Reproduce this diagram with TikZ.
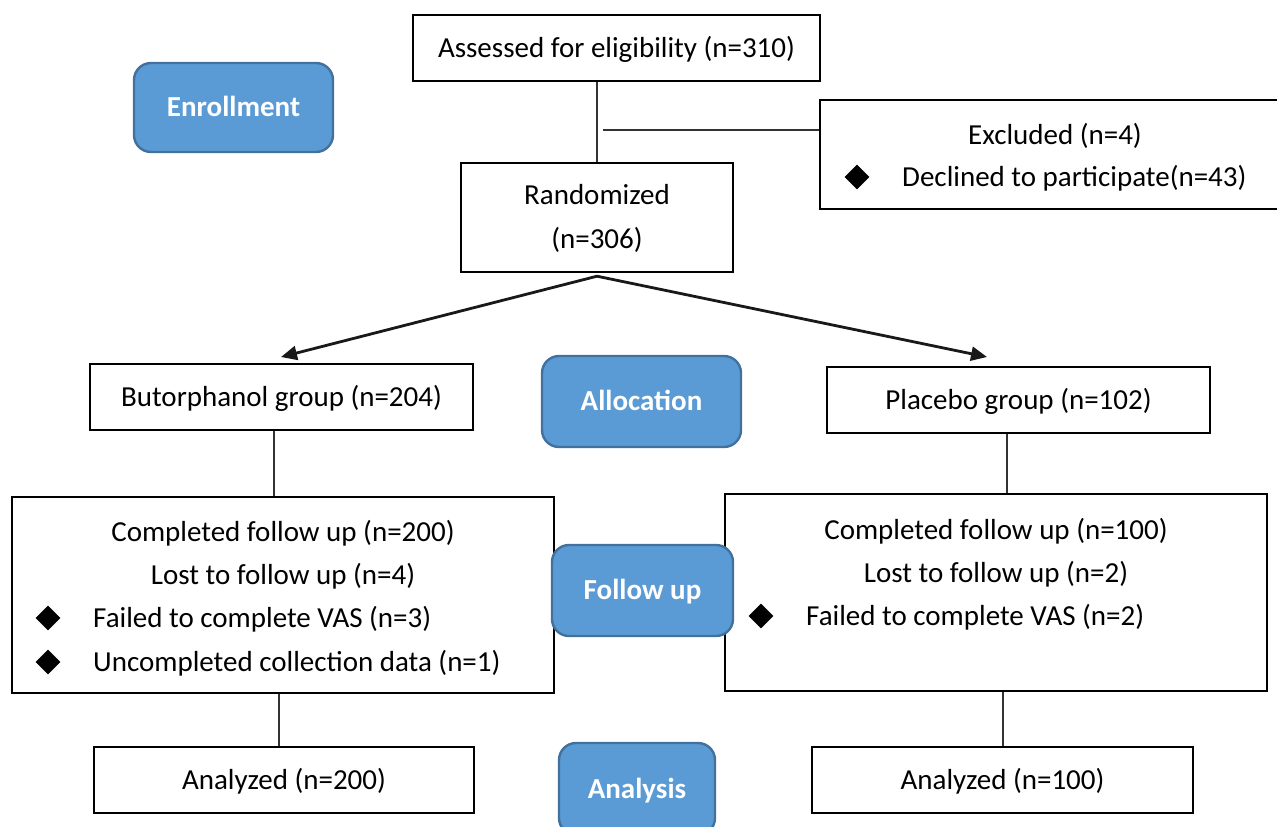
\documentclass[tikz,border=0pt]{standalone}
\usepackage{fontspec}
\setmainfont{Carlito}
\usetikzlibrary{shapes.geometric,arrows.meta,positioning}
\definecolor{stagefill}{RGB}{91,155,213}
\definecolor{stageedge}{RGB}{65,113,156}
\newcommand{\flowfont}{\fontsize{29pt}{44pt}\selectfont}
\tikzset{
  every node/.append style={text depth=2pt},
  box/.style={draw, line width=2.4pt, fill=white, inner sep=0pt},
  stage/.style={draw=stageedge, fill=stagefill, line width=2.4pt, rounded corners=17pt,
    text=white, font=\flowfont\bfseries, inner sep=0pt},
  link/.style={line width=2pt, draw=black!80},
  arr/.style={line width=2.8pt, draw=black!90, -{Triangle[length=16pt,width=14pt]}},
  bullet/.style={diamond, fill=black, inner sep=0pt, minimum width=25pt, minimum height=25pt}
}

\begin{document}
\begin{tikzpicture}[x=1pt, y=-1pt, font=\flowfont]
    \useasboundingbox (0,0) rectangle (1277,827);

    % Boxes
    \node[box, minimum width=407pt, minimum height=66pt] (assess) at (616.5,48) {Assessed for eligibility (n=310)};
    \node[box, minimum width=470pt, minimum height=109pt] (excl) at (1055,154.5) {};
    \node[box, minimum width=272pt, minimum height=109pt, align=center] (rand) at (597,217.5) {Randomized\\(n=306)};
    \node[box, minimum width=383pt, minimum height=66pt] (buto) at (281.5,397) {Butorphanol group (n=204)};
    \node[box, minimum width=383pt, minimum height=66pt] (plac) at (1018.5,400) {Placebo group (n=102)};
    \node[box, minimum width=542pt, minimum height=196pt] (bfu) at (283,595) {};
    \node[box, minimum width=542pt, minimum height=197pt] (pfu) at (996,592.5) {};
    \node[box, minimum width=380pt, minimum height=66pt] (bana) at (284,780) {Analyzed (n=200)};
    \node[box, minimum width=381pt, minimum height=66pt] (pana) at (1002.5,780) {Analyzed (n=100)};

    % Excluded
    \node (exclt) at (1055,135) {Excluded (n=4)};
    \node[bullet] (excld) at (857,177) {};
    \node[anchor=west, inner sep=0pt] (declt) at (902,177) {Declined to participate(n=43)};

    % Follow up, butorphanol
    \node (bcomp) at (283,532) {Completed follow up (n=200)};
    \node (blost) at (283,575) {Lost to follow up (n=4)};
    \foreach \y/\txt/\nm in {618/Failed to complete VAS (n=3)/a, 662/Uncompleted collection data (n=1)/b} {
        \node[bullet] (bd\nm) at (48,\y) {};
        \node[anchor=west, inner sep=0pt] (bt\nm) at (93,\y) {\txt};
    }

    % Follow up, placebo
    \node (pcomp) at (996,530) {Completed follow up (n=100)};
    \node (plost) at (996,573) {Lost to follow up (n=2)};
    \node[bullet] (pd) at (761,616) {};
    \node[anchor=west, inner sep=0pt] (pfail) at (806,616) {Failed to complete VAS (n=2)};

    % Connectors
    \coordinate (astem) at (rand.north |- assess.south);
    \draw[link] (astem) -- (rand.north);
    \coordinate (join) at (603,130);
    \draw[link] (join) -- (join -| excl.west);
    \coordinate (tipB) at (281,357);
    \coordinate (tipP) at (987,357);
    \draw[arr] ([yshift=-3pt]rand.south) -- (tipB);
    \draw[arr] ([yshift=-3pt]rand.south) -- (tipP);
    \coordinate (bstem) at ([xshift=-8pt]buto.south);
    \draw[link] (bstem) -- (bstem |- bfu.north);
    \coordinate (pstem) at ([xshift=-12pt]plac.south);
    \draw[link] (pstem) -- (pstem |- pfu.north);
    \coordinate (bdrop) at ([xshift=-4pt]bfu.south);
    \draw[link] (bdrop) -- (bdrop |- bana.north);
    \draw[link] (pana.north |- pfu.south) -- (pana.north);

    % Stages
    \node[stage, minimum width=199pt, minimum height=89pt] (enroll) at (233.5,107.5) {Enrollment};
    \node[stage, minimum width=199pt, minimum height=91pt] (alloc) at (641.5,401.5) {Allocation};
    \node[stage, minimum width=181pt, minimum height=91pt] (follow) at (642.5,590.5) {Follow up};
    \node[stage, minimum width=156pt, minimum height=92pt] (anal) at (637,789) {Analysis};
\end{tikzpicture}
\end{document}
